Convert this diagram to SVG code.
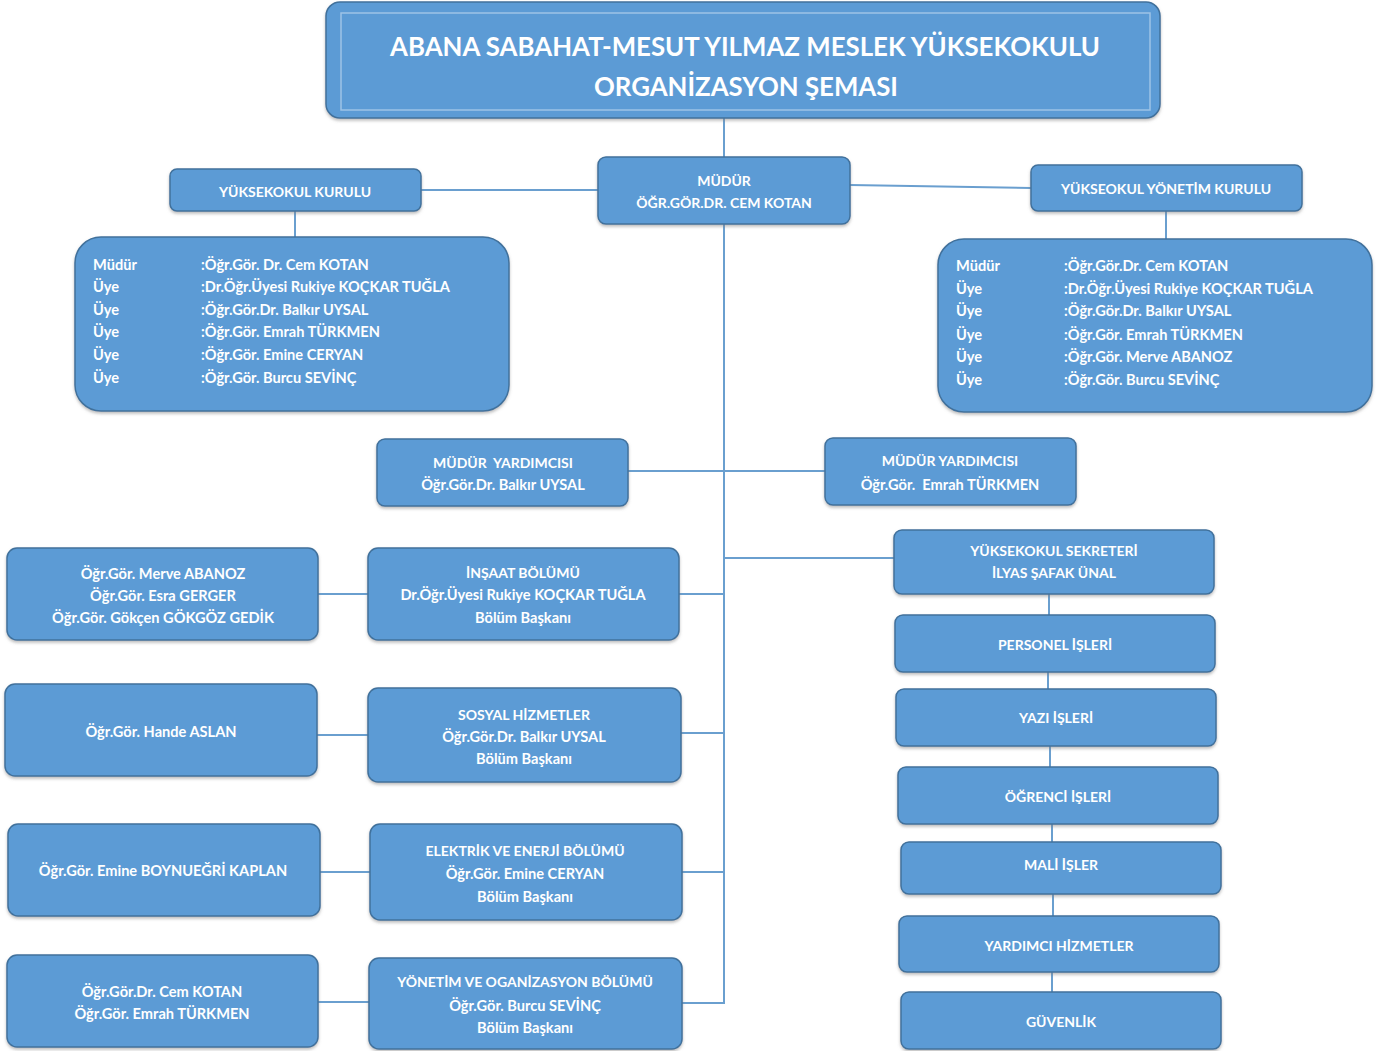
<svg xmlns="http://www.w3.org/2000/svg" width="1384" height="1051" viewBox="0 0 1384 1051">
<defs>
<filter id="sh" x="-5%" y="-10%" width="110%" height="125%">
<feDropShadow dx="0" dy="2" stdDeviation="1.5" flood-color="#7f7f7f" flood-opacity="0.5"/>
</filter>
</defs>
<style>
.b{fill:#5B9BD5;stroke:#41719C;stroke-width:1.5;filter:url(#sh)}
.t{font-family:Lato,"Open Sans","Liberation Sans",sans-serif;font-weight:bold;fill:#ffffff;font-size:14px;text-anchor:middle;dominant-baseline:central}
.m{font-size:14.6px}
.l{text-anchor:start}
.ttl{font-size:27px}
.c{stroke:#6A9FCF;stroke-width:2;fill:none}
</style>
<rect width="1384" height="1051" fill="#ffffff"/>
<g id="connectors">
<line class="c" x1="724" y1="118" x2="724" y2="157"/>
<line class="c" x1="724" y1="224" x2="724" y2="1004"/>
<line class="c" x1="421" y1="190" x2="598" y2="190"/>
<line class="c" x1="850" y1="185" x2="1031" y2="188"/>
<line class="c" x1="295" y1="211" x2="295" y2="237"/>
<line class="c" x1="1166" y1="211" x2="1166" y2="239"/>
<line class="c" x1="628" y1="471" x2="825" y2="471"/>
<line class="c" x1="724" y1="558" x2="894" y2="558"/>
<line class="c" x1="1049" y1="594" x2="1049" y2="615"/>
<line class="c" x1="1048" y1="672" x2="1048" y2="689"/>
<line class="c" x1="1050" y1="746" x2="1050" y2="767"/>
<line class="c" x1="1052" y1="824" x2="1052" y2="842"/>
<line class="c" x1="1053" y1="894" x2="1053" y2="916"/>
<line class="c" x1="1052" y1="972" x2="1052" y2="992"/>
<line class="c" x1="679" y1="594" x2="724" y2="594"/>
<line class="c" x1="681" y1="733" x2="724" y2="733"/>
<line class="c" x1="682" y1="872" x2="724" y2="872"/>
<line class="c" x1="682" y1="1003" x2="724" y2="1003"/>
<line class="c" x1="318" y1="594" x2="368" y2="594"/>
<line class="c" x1="317" y1="735" x2="368" y2="735"/>
<line class="c" x1="320" y1="872" x2="370" y2="872"/>
<line class="c" x1="318" y1="1002" x2="369" y2="1002"/>
</g>
<g id="title">
<rect class="b" x="326" y="2" width="834" height="116" rx="14"/>
<rect x="341" y="13" width="809" height="97" fill="none" stroke="#9DC3E6" stroke-width="1.5"/>
<text class="t ttl" x="745" y="45" textLength="710" lengthAdjust="spacingAndGlyphs">ABANA SABAHAT-MESUT YILMAZ MESLEK YÜKSEKOKULU</text>
<text class="t ttl" x="746" y="85" textLength="304" lengthAdjust="spacingAndGlyphs">ORGANİZASYON ŞEMASI</text>
</g>
<g id="mudur">
<rect class="b" x="598" y="157" width="252" height="67" rx="8"/>
<text class="t" x="724" y="180">MÜDÜR</text>
<text class="t" x="724" y="202">ÖĞR.GÖR.DR. CEM KOTAN</text>
</g>
<g id="yuksekokul-kurulu">
<rect class="b" x="170" y="169" width="251" height="42" rx="7"/>
<text class="t" x="295" y="191">YÜKSEKOKUL KURULU</text>
</g>
<g id="yonetim-kurulu">
<rect class="b" x="1031" y="165" width="271" height="46" rx="7"/>
<text class="t" x="1166" y="188">YÜKSEOKUL YÖNETİM KURULU</text>
</g>
<g id="kurul-uyeleri">
<rect class="b" x="75" y="237" width="434" height="174" rx="26"/>
<text class="t m l" x="93" y="264">Müdür</text><text class="t m l" x="201" y="264">:Öğr.Gör. Dr. Cem KOTAN</text>
<text class="t m l" x="93" y="286">Üye</text><text class="t m l" x="201" y="286">:Dr.Öğr.Üyesi Rukiye KOÇKAR TUĞLA</text>
<text class="t m l" x="93" y="309">Üye</text><text class="t m l" x="201" y="309">:Öğr.Gör.Dr. Balkır UYSAL</text>
<text class="t m l" x="93" y="331">Üye</text><text class="t m l" x="201" y="331">:Öğr.Gör. Emrah TÜRKMEN</text>
<text class="t m l" x="93" y="354">Üye</text><text class="t m l" x="201" y="354">:Öğr.Gör. Emine CERYAN</text>
<text class="t m l" x="93" y="377">Üye</text><text class="t m l" x="201" y="377">:Öğr.Gör. Burcu SEVİNÇ</text>
</g>
<g id="yonetim-uyeleri">
<rect class="b" x="938" y="239" width="434" height="173" rx="26"/>
<text class="t m l" x="956" y="265">Müdür</text><text class="t m l" x="1064" y="265">:Öğr.Gör.Dr. Cem KOTAN</text>
<text class="t m l" x="956" y="288">Üye</text><text class="t m l" x="1064" y="288">:Dr.Öğr.Üyesi Rukiye KOÇKAR TUĞLA</text>
<text class="t m l" x="956" y="310">Üye</text><text class="t m l" x="1064" y="310">:Öğr.Gör.Dr. Balkır UYSAL</text>
<text class="t m l" x="956" y="334">Üye</text><text class="t m l" x="1064" y="334">:Öğr.Gör. Emrah TÜRKMEN</text>
<text class="t m l" x="956" y="356">Üye</text><text class="t m l" x="1064" y="356">:Öğr.Gör. Merve ABANOZ</text>
<text class="t m l" x="956" y="379">Üye</text><text class="t m l" x="1064" y="379">:Öğr.Gör. Burcu SEVİNÇ</text>
</g>
<g id="mudur-yardimcisi-1">
<rect class="b" x="377" y="439" width="251" height="67" rx="8"/>
<text class="t" x="503" y="462" xml:space="preserve">MÜDÜR  YARDIMCISI</text>
<text class="t m" x="503" y="484">Öğr.Gör.Dr. Balkır UYSAL</text>
</g>
<g id="mudur-yardimcisi-2">
<rect class="b" x="825" y="438" width="251" height="67" rx="8"/>
<text class="t" x="950" y="460">MÜDÜR YARDIMCISI</text>
<text class="t m" x="950" y="484" xml:space="preserve">Öğr.Gör.  Emrah TÜRKMEN</text>
</g>
<g id="sekreter">
<rect class="b" x="894" y="530" width="320" height="64" rx="8"/>
<text class="t" x="1054" y="550">YÜKSEKOKUL SEKRETERİ</text>
<text class="t" x="1054" y="572">İLYAS ŞAFAK ÜNAL</text>
</g>
<g id="personel">
<rect class="b" x="895" y="615" width="320" height="57" rx="8"/>
<text class="t" x="1055" y="644">PERSONEL İŞLERİ</text>
</g>
<g id="yazi">
<rect class="b" x="896" y="689" width="320" height="57" rx="8"/>
<text class="t" x="1056" y="717">YAZI İŞLERİ</text>
</g>
<g id="ogrenci">
<rect class="b" x="898" y="767" width="320" height="57" rx="8"/>
<text class="t" x="1058" y="796">ÖĞRENCİ İŞLERİ</text>
</g>
<g id="mali">
<rect class="b" x="901" y="842" width="320" height="52" rx="8"/>
<text class="t" x="1061" y="864">MALİ İŞLER</text>
</g>
<g id="yardimci">
<rect class="b" x="899" y="916" width="320" height="56" rx="8"/>
<text class="t" x="1059" y="945">YARDIMCI HİZMETLER</text>
</g>
<g id="guvenlik">
<rect class="b" x="901" y="992" width="320" height="57" rx="8"/>
<text class="t" x="1061" y="1021">GÜVENLİK</text>
</g>
<g id="insaat">
<rect class="b" x="368" y="548" width="311" height="92" rx="10"/>
<text class="t" x="523" y="572">İNŞAAT BÖLÜMÜ</text>
<text class="t m" x="523" y="594">Dr.Öğr.Üyesi Rukiye KOÇKAR TUĞLA</text>
<text class="t m" x="523" y="617">Bölüm Başkanı</text>
</g>
<g id="sosyal">
<rect class="b" x="368" y="688" width="313" height="94" rx="10"/>
<text class="t" x="524" y="714">SOSYAL HİZMETLER</text>
<text class="t m" x="524" y="736">Öğr.Gör.Dr. Balkır UYSAL</text>
<text class="t m" x="524" y="758">Bölüm Başkanı</text>
</g>
<g id="elektrik">
<rect class="b" x="370" y="824" width="312" height="96" rx="10"/>
<text class="t" x="525" y="850">ELEKTRİK VE ENERJİ BÖLÜMÜ</text>
<text class="t m" x="525" y="873">Öğr.Gör. Emine CERYAN</text>
<text class="t m" x="525" y="896">Bölüm Başkanı</text>
</g>
<g id="yonetim-organizasyon">
<rect class="b" x="369" y="958" width="313" height="91" rx="10"/>
<text class="t" x="525" y="981">YÖNETİM VE OGANİZASYON BÖLÜMÜ</text>
<text class="t m" x="525" y="1005">Öğr.Gör. Burcu SEVİNÇ</text>
<text class="t m" x="525" y="1027">Bölüm Başkanı</text>
</g>
<g id="insaat-kadro">
<rect class="b" x="7" y="548" width="311" height="92" rx="10"/>
<text class="t m" x="163" y="573">Öğr.Gör. Merve ABANOZ</text>
<text class="t m" x="163" y="595">Öğr.Gör. Esra GERGER</text>
<text class="t m" x="163" y="617">Öğr.Gör. Gökçen GÖKGÖZ GEDİK</text>
</g>
<g id="sosyal-kadro">
<rect class="b" x="5" y="684" width="312" height="92" rx="10"/>
<text class="t m" x="161" y="731">Öğr.Gör. Hande ASLAN</text>
</g>
<g id="elektrik-kadro">
<rect class="b" x="8" y="824" width="312" height="92" rx="10"/>
<text class="t m" x="163" y="870">Öğr.Gör. Emine BOYNUEĞRİ KAPLAN</text>
</g>
<g id="yonetim-kadro">
<rect class="b" x="7" y="955" width="311" height="92" rx="10"/>
<text class="t m" x="162" y="991">Öğr.Gör.Dr. Cem KOTAN</text>
<text class="t m" x="162" y="1013">Öğr.Gör. Emrah TÜRKMEN</text>
</g>
</svg>
